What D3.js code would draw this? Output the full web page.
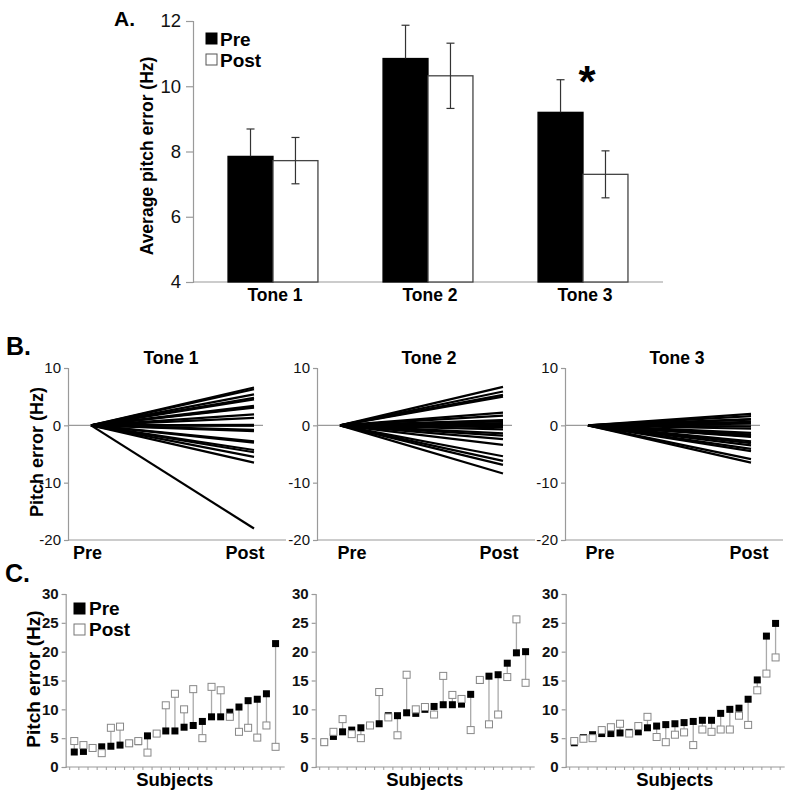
<!DOCTYPE html>
<html><head><meta charset="utf-8">
<script src="https://cdn.jsdelivr.net/npm/d3@7"></script>
<style>
html,body{margin:0;padding:0;background:#fff;}
svg{display:block;font-family:"Liberation Sans",Arial,sans-serif;}
</style></head>
<body>
<svg id="chart" width="800" height="798"></svg>
<script>
// ---------- DATA ----------
const tones = ["Tone 1", "Tone 2", "Tone 3"];
const phases = ["Pre", "Post"];
// Panel A: average pitch error (Hz)
const preMean  = [7.85, 10.85, 9.2];
const preSem   = [0.84, 1.02, 1.0];
const postMean = [7.72, 10.32, 7.3];
const postSem  = [0.71, 1.0, 0.72];
const aTicks = [4, 6, 8, 10, 12];

// Panel B: change in pitch error (Post relative to Pre), Hz
const changeTone1 = [6.6, 6.3, 5.4, 4.8, 4.5, 3.4, 3.2, 3.1, 1.9, 1.3, 0.1, 0, 0, 0, -0.8, -1.0, -2.8, -3.0, -4.3, -4.7, -5.5, -6.5, -18.0];
const changeTone2 = [6.7, 5.9, 5.3, 5.0, 2.2, 1.7, 0.9, 0.8, 0.7, 0.4, 0.1, 0, 0, -0.3, -0.7, -1.4, -1.8, -2.4, -3.4, -5.4, -6.2, -6.9, -8.4];
const changeTone3 = [2.0, 1.6, 1.1, 1.0, 0.6, 0.3, -0.2, -0.2, -0.6, -1.3, -1.6, -1.7, -1.8, -1.9, -1.9, -2.0, -2.8, -3.1, -3.5, -4.1, -4.5, -5.9, -6.5];
const bTicks = [10, 0, -10, -20];

// Panel C: per-subject pitch error (Hz)
const preTone1  = [2.6, 2.7, 3.3, 3.5, 3.6, 3.8, 4.1, 4.4, 5.4, 5.8, 6.25, 6.25, 6.9, 7.2, 7.9, 8.7, 8.7, 9.5, 10.4, 11.5, 11.75, 12.7, 21.4];
const postTone1 = [4.5, 3.8, 3.3, 2.4, 6.8, 7.0, 4.1, 4.5, 2.5, 5.8, 10.7, 12.7, 10.0, 13.5, 5.0, 13.9, 13.3, 8.7, 6.1, 6.8, 5.1, 7.2, 3.5];
const preTone2  = [4.3, 5.3, 6.1, 6.4, 6.8, 7.2, 7.5, 8.9, 8.9, 9.4, 9.3, 10.0, 10.5, 10.8, 10.8, 10.9, 12.6, 15.0, 15.75, 16.0, 18.0, 19.8, 20.0];
const postTone2 = [4.3, 6.1, 8.3, 5.7, 5.0, 7.2, 13.0, 8.6, 5.5, 16.0, 10.0, 10.4, 9.1, 15.8, 12.5, 11.8, 6.4, 15.1, 7.4, 9.1, 15.6, 25.6, 14.6];
const preTone3  = [4.2, 5.1, 5.6, 5.8, 5.8, 5.9, 6.0, 6.1, 6.8, 7.1, 7.35, 7.5, 7.7, 7.9, 8.1, 8.1, 9.3, 10.0, 10.2, 11.75, 15.1, 22.7, 24.9];
const postTone3 = [4.5, 4.9, 5.0, 6.4, 6.9, 7.5, 5.8, 7.1, 8.7, 5.2, 4.3, 5.6, 6.0, 3.8, 6.5, 6.1, 6.5, 6.5, 8.9, 7.3, 13.3, 16.2, 19.0];
const cTicks = [0, 5, 10, 15, 20, 25, 30];

// ---------- DRAW ----------
const svg = d3.select("#chart");
const AX = "#9a9a9a";
const F = "Liberation Sans, Arial, sans-serif";

function styleAxis(g, fs, weight) {
  g.select(".domain").attr("stroke", AX).attr("stroke-width", 1.2);
  g.selectAll(".tick line").attr("stroke", AX).attr("stroke-width", 1.2);
  g.selectAll(".tick text").attr("fill", "#111").attr("font-size", fs).attr("font-weight", weight).attr("font-family", F);
}

// ===== Panel A =====
const ax0 = 193, ax1 = 663;
const ya = d3.scaleLinear().domain([4, 12]).range([282, 21]);
const xa = d3.scaleBand().domain(tones).range([ax0, ax1]).paddingInner(0.42).paddingOuter(0.226);
const xaSub = d3.scaleBand().domain(phases).range([0, xa.bandwidth()]);
const gA = svg.append("g");

const yAxA = gA.append("g").attr("transform", `translate(${ax0},0)`)
  .call(d3.axisLeft(ya).tickValues(aTicks).tickSize(7).tickPadding(5));
styleAxis(yAxA, 18.5, "normal");
gA.append("line").attr("x1", ax0).attr("x2", ax1).attr("y1", ya(4)).attr("y2", ya(4)).attr("stroke", AX).attr("stroke-width", 1.2);

const aData = tones.map((t, i) => ({ tone: t, vals: [
  { p: "Pre", m: preMean[i], s: preSem[i] },
  { p: "Post", m: postMean[i], s: postSem[i] }] }));

const grp = gA.selectAll(".grp").data(aData).join("g").attr("transform", d => `translate(${xa(d.tone)},0)`);
grp.selectAll("rect").data(d => d.vals).join("rect")
  .attr("x", d => xaSub(d.p)).attr("width", xaSub.bandwidth())
  .attr("y", d => ya(d.m)).attr("height", d => ya(4) - ya(d.m))
  .attr("fill", d => d.p === "Pre" ? "#000" : "#fff")
  .attr("stroke", d => d.p === "Pre" ? "#000" : "#444").attr("stroke-width", 1.3);
// error bars
grp.selectAll(".eb").data(d => d.vals).join("g").attr("class", "eb").each(function (d) {
  const g = d3.select(this);
  const cx = xaSub(d.p) + xaSub.bandwidth() / 2;
  const lo = d.p === "Pre" ? d.m : d.m - d.s;
  const hi = d.m + d.s;
  g.append("line").attr("x1", cx).attr("x2", cx).attr("y1", ya(lo)).attr("y2", ya(hi)).attr("stroke", "#333").attr("stroke-width", 1.2);
  g.append("line").attr("x1", cx - 4).attr("x2", cx + 4).attr("y1", ya(hi)).attr("y2", ya(hi)).attr("stroke", "#333").attr("stroke-width", 1.2);
  if (d.p === "Post") g.append("line").attr("x1", cx - 4).attr("x2", cx + 4).attr("y1", ya(lo)).attr("y2", ya(lo)).attr("stroke", "#333").attr("stroke-width", 1.2);
});
// category labels
gA.selectAll(".cat").data(tones).join("text")
  .attr("x", d => xa(d) + xa.bandwidth() / 2 + 2).attr("y", 301)
  .attr("text-anchor", "middle").attr("font-size", 17.5).attr("font-weight", "bold").attr("font-family", F).text(d => d);
// asterisk
gA.append("text").attr("x", xa("Tone 3") + xa.bandwidth() / 2 + 4).attr("y", 97).attr("text-anchor", "middle")
  .attr("font-size", 44).attr("font-weight", "bold").attr("font-family", F).text("*");
// y title
gA.append("text").attr("transform", "translate(153,156) rotate(-90)").attr("text-anchor", "middle")
  .attr("font-size", 17.5).attr("font-weight", "bold").attr("font-family", F).text("Average pitch error (Hz)");
// legend
const legA = gA.append("g");
phases.forEach((p, i) => {
  legA.append("rect").attr("x", 206).attr("y", 33 + i * 21).attr("width", 11).attr("height", 11)
    .attr("fill", p === "Pre" ? "#000" : "#fff").attr("stroke", p === "Pre" ? "#000" : "#555").attr("stroke-width", 1);
  legA.append("text").attr("x", 220).attr("y", 46 + i * 21).attr("font-size", 19).attr("font-weight", "bold").attr("font-family", F).text(p);
});
svg.append("text").attr("x", 114).attr("y", 26).attr("font-size", 21).attr("font-weight", "bold").attr("font-family", F).text("A.");

// ===== Panel B =====
const bAxes = [68, 317, 565];
const bChanges = [changeTone1, changeTone2, changeTone3];
const preLabDx = [19.5, 35, 35], postLabDx = [177, 182, 184];
const yb = d3.scaleLinear().domain([-20, 10]).range([540, 368]);
bAxes.forEach((axx, k) => {
  const g = svg.append("g");
  const xb = d3.scalePoint().domain(phases).range([axx + 23, axx + 186]);
  const yAx = g.append("g").attr("transform", `translate(${axx},0)`)
    .call(d3.axisLeft(yb).tickValues(bTicks).tickSize(4).tickPadding(3).tickFormat(d3.format("d")));
  styleAxis(yAx, 15, "normal");
  yAx.selectAll(".tick text").text(d => d < 0 ? "-" + Math.abs(d) : d);
  g.append("line").attr("x1", axx).attr("x2", axx + 218).attr("y1", yb(-20)).attr("y2", yb(-20)).attr("stroke", AX).attr("stroke-width", 1.2);
  g.append("line").attr("x1", axx).attr("x2", axx + 195).attr("y1", yb(0)).attr("y2", yb(0)).attr("stroke", AX).attr("stroke-width", 1.2);
  const line = d3.line().x(d => xb(d.p)).y(d => yb(d.v));
  g.selectAll(".ln").data(bChanges[k]).join("path")
    .attr("d", v => line([{ p: "Pre", v: 0 }, { p: "Post", v: v }]))
    .attr("fill", "none").attr("stroke", "#000").attr("stroke-width", 2.2);
  g.append("text").attr("x", axx + preLabDx[k]).attr("y", 559).attr("text-anchor", "middle")
    .attr("font-size", 18).attr("font-weight", "bold").attr("font-family", F).text("Pre");
  g.append("text").attr("x", axx + postLabDx[k]).attr("y", 559).attr("text-anchor", "middle")
    .attr("font-size", 18).attr("font-weight", "bold").attr("font-family", F).text("Post");
  g.append("text").attr("x", axx + (k === 0 ? 103 : 112)).attr("y", 364).attr("text-anchor", "middle")
    .attr("font-size", 17.5).attr("font-weight", "bold").attr("font-family", F).text(tones[k]);
});
svg.append("text").attr("transform", "translate(43,452) rotate(-90)").attr("text-anchor", "middle")
  .attr("font-size", 18).attr("font-weight", "bold").attr("font-family", F).text("Pitch error (Hz)");
svg.append("text").attr("x", 6).attr("y", 355).attr("font-size", 25).attr("font-weight", "bold").attr("font-family", F).text("B.");

// ===== Panel C =====
const cAxes = [65.7, 315.7, 565.7];
const cPre = [preTone1, preTone2, preTone3];
const cPost = [postTone1, postTone2, postTone3];
const yc = d3.scaleLinear().domain([0, 30]).range([767, 594]);
cAxes.forEach((axx, k) => {
  const g = svg.append("g");
  const subjects = cPre[k].map((_, i) => i);
  const xc = d3.scaleBand().domain(subjects).range([axx + 4, axx + 4 + 23 * 9.15]);
  const yAx = g.append("g").attr("transform", `translate(${axx},0)`)
    .call(d3.axisLeft(yc).tickValues(cTicks).tickSize(4).tickPadding(3));
  styleAxis(yAx, 15, "bold");
  g.append("line").attr("x1", axx).attr("x2", axx + 219).attr("y1", yc(0)).attr("y2", yc(0)).attr("stroke", AX).attr("stroke-width", 1.2);
  // small subject ticks
  g.selectAll(".st").data(subjects.concat([23])).join("line")
    .attr("x1", d => d < 23 ? xc(d) : xc(22) + xc.bandwidth())
    .attr("x2", d => d < 23 ? xc(d) : xc(22) + xc.bandwidth())
    .attr("y1", yc(0)).attr("y2", yc(0) + 3).attr("stroke", AX).attr("stroke-width", 1);
  const data = subjects.map(i => ({ i, pre: cPre[k][i], post: cPost[k][i] }));
  const cx = d => xc(d.i) + xc.bandwidth() / 2;
  g.selectAll(".cn").data(data).join("line")
    .attr("x1", cx).attr("x2", cx).attr("y1", d => yc(d.pre)).attr("y2", d => yc(d.post))
    .attr("stroke", "#aaa").attr("stroke-width", 1.3);
  const s = 7;
  g.selectAll(".pre").data(data).join("rect")
    .attr("x", d => cx(d) - s / 2).attr("y", d => yc(d.pre) - s / 2).attr("width", s).attr("height", s).attr("fill", "#000");
  g.selectAll(".post").data(data).join("rect")
    .attr("x", d => cx(d) - s / 2).attr("y", d => yc(d.post) - s / 2).attr("width", s).attr("height", s)
    .attr("fill", "#fff").attr("stroke", "#888").attr("stroke-width", 1);
  g.append("text").attr("x", axx + 109).attr("y", 786).attr("text-anchor", "middle")
    .attr("font-size", 18.5).attr("font-weight", "bold").attr("font-family", F).text("Subjects");
});
svg.append("text").attr("transform", "translate(40,679) rotate(-90)").attr("text-anchor", "middle")
  .attr("font-size", 19).attr("font-weight", "bold").attr("font-family", F).text("Pitch error (Hz)");
svg.append("text").attr("x", 5).attr("y", 582).attr("font-size", 25).attr("font-weight", "bold").attr("font-family", F).text("C.");
const legC = svg.append("g");
phases.forEach((p, i) => {
  legC.append("rect").attr("x", 74).attr("y", 603 + i * 21).attr("width", 11).attr("height", 11)
    .attr("fill", p === "Pre" ? "#000" : "#fff").attr("stroke", p === "Pre" ? "#000" : "#777").attr("stroke-width", 1);
  legC.append("text").attr("x", 89).attr("y", 615 + i * 21).attr("font-size", 19).attr("font-weight", "bold").attr("font-family", F).text(p);
});
</script>
</body></html>
